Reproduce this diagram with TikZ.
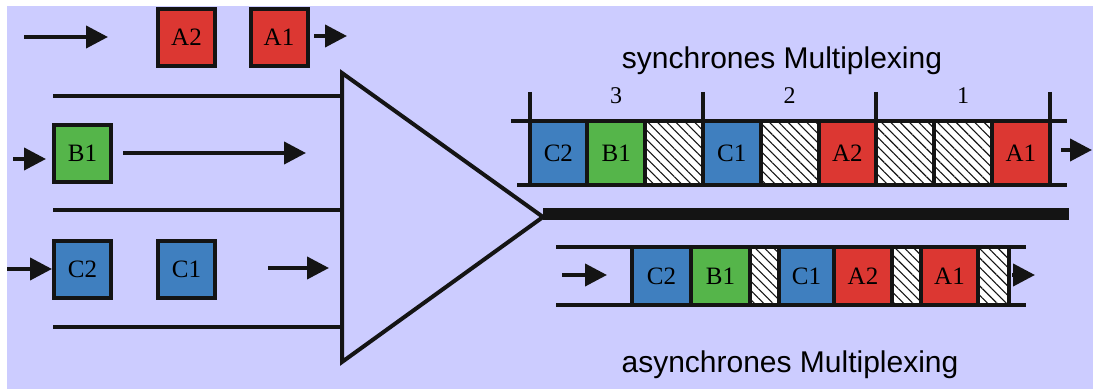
\documentclass[tikz,border=0pt]{standalone}
\usepackage{fontspec}
\setmainfont{Liberation Serif}
\setsansfont{Liberation Sans}
\usepackage{xcolor}
\usetikzlibrary{arrows.meta,patterns.meta}
\definecolor{bgviolet}{HTML}{CCCCFF}
\definecolor{pktred}{HTML}{DC3732}
\definecolor{pktgreen}{HTML}{55B54A}
\definecolor{pktblue}{HTML}{3F7FBF}
\definecolor{ink}{HTML}{141414}
\tikzset{
	pkt/.style={draw=ink, line width=2pt, inner sep=0pt, minimum size=28.5pt, font=\fontsize{12.5}{14}\selectfont},
	slot/.style={draw=ink, line width=2pt, inner sep=0pt, font=\fontsize{12.5}{14}\selectfont},
	redpkt/.style={fill=pktred},
	greenpkt/.style={fill=pktgreen},
	bluepkt/.style={fill=pktblue},
	idle/.style={preaction={fill=white}, pattern={Lines[angle=-45,distance=3.3pt,line width=0.55pt]}, pattern color=ink},
	flow/.style={draw=ink, line width=2pt, -{Triangle[length=11pt,width=11pt]}},
	wire/.style={draw=ink, line width=2pt},
	title/.style={font=\sffamily\fontsize{15}{18}\selectfont}
}

\begin{document}
\begin{tikzpicture}[x=0.5pt, y=0.5pt]
	\useasboundingbox (0,0) rectangle (1093,389);
	\fill[bgviolet] (7,0) rectangle (1093,383);
	% input streams
	\node[pkt, redpkt] (a2) at (186.5,351.5) {A2};
	\node[pkt, redpkt] (a1) at (279,351.5) {A1};
	\node[pkt, greenpkt] (b1) at (82.5,235.5) {B1};
	\node[pkt, bluepkt] (c2) at (82.5,119.5) {C2};
	\node[pkt, bluepkt] (c1) at (186.5,119.5) {C1};
	\draw[flow] (24,352) -- (108,352);
	\draw[flow] (314,353) -- (347,353);
	\draw[flow] (13,230) -- (46,230);
	\draw[flow] (123,236) -- (306,236);
	\draw[flow] (7,120) -- (c2.west |- 0,120);
	\draw[flow] (268,121) -- (329,121);
	\draw[wire] (53,293) -- (342,293);
	\draw[wire] (53,179) -- (342,179);
	\draw[wire] (53,62) -- (342,62);
	% multiplexer
	\draw[wire, line join=miter] (342,316) -- (543,172) -- (342,27) -- cycle;
	\draw[ink, line width=6pt] (543,175) -- (1069,175);
	% synchronous frame
	\node[title] (synctitle) at (782,328) {synchrones Multiplexing};
	\draw[wire] (511,268) -- (1067,268);
	\draw[wire] (517,204) -- (1067,204);
	\foreach \st/\lbl [count=\i] in {bluepkt/C2, greenpkt/B1, idle/, bluepkt/C1, idle/, redpkt/A2, idle/, idle/, redpkt/A1}
		\node[slot, \st, minimum width=28.9pt, minimum height=32pt] (s\i) at ({529.5+57.8*(\i-0.5)},236) {\lbl};
	\foreach \x in {529.5,702.9,876.3,1049.7}
		\draw[wire] (\x,297) -- (\x,204);
	\foreach \k/\n in {2/3, 5/2, 8/1}
		\node[font=\fontsize{12}{14}\selectfont] (frame\n) at (s\k |- 0,293) {\n};
	\draw[flow] (1061,239) -- (1092,239);
	% asynchronous stream
	\node[title] (asynctitle) at (790,24) {asynchrones Multiplexing};
	\draw[wire] (556,142) -- (1026,142);
	\draw[wire] (556,84) -- (1026,84);
	\foreach \cx/\w/\st/\lbl [count=\i] in {661.5/29.5/bluepkt/C2, 720.5/29.5/greenpkt/B1, 764.5/14.5/idle/, 806.5/27.5/bluepkt/C1, 863/29/redpkt/A2, 906.5/14.5/idle/, 949.5/28.5/redpkt/A1, 993.5/15.5/idle/}
		\node[slot, \st, minimum width=\w pt, minimum height=29pt] (q\i) at (\cx,113) {\lbl};
	\draw[flow] (562,114) -- (607,114);
	\draw[flow] (1012,114) -- (1035,114);
\end{tikzpicture}
\end{document}
